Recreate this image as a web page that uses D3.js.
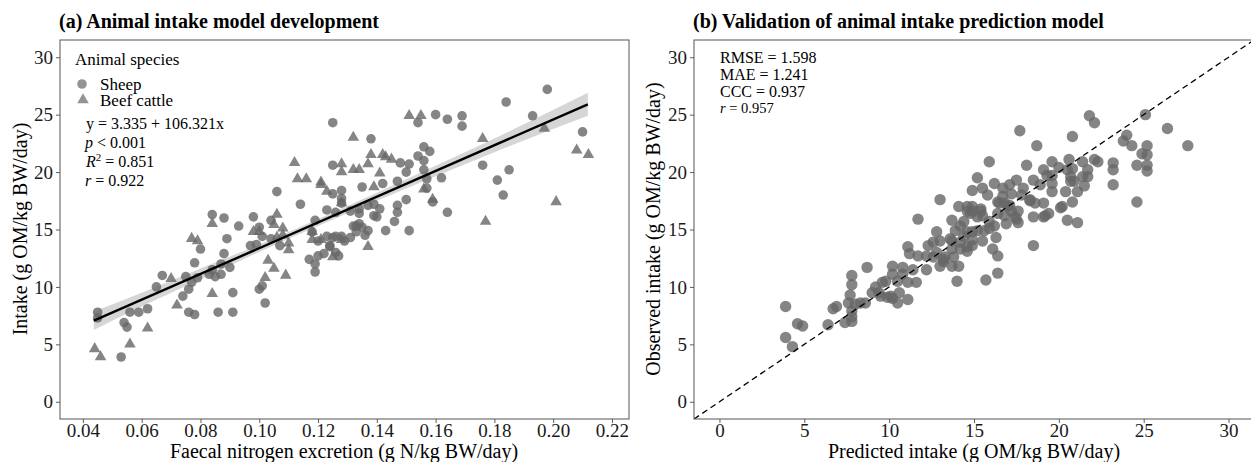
<!DOCTYPE html>
<html>
<head>
<meta charset="utf-8">
<script src="https://cdn.jsdelivr.net/npm/d3@7"></script>
<style>
  body { margin: 0; background: #fff; }
  svg text { font-family: "Liberation Serif", "Times New Roman", serif; }
</style>
</head>
<body>
<div id="chart"></div>
<script>
// panel (a): faecal N excretion vs intake, by species

var sheepX = [0.045,0.045,0.053,0.054,0.055,0.056,0.059,0.062,0.065,0.067,0.074,0.076,0.076,0.078,0.075,0.077,0.079,0.083,0.084,0.085,
  0.087,0.087,0.088,0.078,0.080,0.089,0.084,0.088,0.091,0.086,0.091,0.093,0.090,0.098,0.104,0.100,0.101,0.099,0.097,0.104,
  0.107,0.101,0.100,0.102,0.106,0.114,0.119,0.118,0.120,0.123,0.126,0.128,0.129,0.132,0.133,0.117,0.120,0.122,0.124,0.127,
  0.119,0.119,0.123,0.125,0.128,0.128,0.128,0.198,0.184,0.193,0.210,0.154,0.160,0.164,0.169,0.169,0.125,0.138,0.148,0.151,
  0.154,0.156,0.158,0.156,0.125,0.135,0.142,0.147,0.150,0.156,0.157,0.162,0.157,0.150,0.159,0.164,0.176,0.181,0.185,0.183,
  0.126,0.131,0.134,0.137,0.139,0.141,0.139,0.147,0.147,0.146,0.133,0.134,0.140,0.143,0.151,0.134,0.135,0.137,0.136,0.131,
  0.125,0.124,0.126];
var sheepY = [7.8,7.3,3.9,6.9,6.5,7.8,7.8,8.1,10.0,11.0,9.2,9.8,7.8,7.6,10.9,10.4,10.8,11.1,11.5,10.9,
  11.1,12.0,12.9,12.1,13.3,14.2,16.3,16.0,9.5,7.8,7.8,15.3,11.7,16.1,15.8,15.2,14.4,13.7,13.6,14.2,
  13.6,10.1,9.8,8.6,18.3,17.2,15.8,14.8,14.0,14.4,14.4,14.4,14.0,15.3,14.8,12.4,12.7,12.9,13.6,12.7,
  12.0,11.3,16.7,20.6,18.4,17.7,17.3,27.2,26.1,24.9,23.5,24.3,25.0,24.6,24.9,24.0,24.3,22.9,20.8,20.7,
  21.4,22.2,21.8,21.0,18.1,18.7,19.0,19.2,20.0,20.2,19.4,19.5,18.6,17.6,17.4,16.5,20.6,19.3,20.2,18.0,
  16.5,16.6,16.8,17.1,17.2,16.8,16.2,17.1,16.5,15.7,15.3,16.4,16.1,14.9,14.9,15.5,15.2,14.9,14.5,14.3,
  14.3,13.5,13.0];

var cattleX = [0.044,0.046,0.056,0.062,0.070,0.072,0.084,0.077,0.079,0.084,0.098,0.100,0.105,0.108,0.108,0.106,0.110,0.103,0.105,0.109,
  0.102,0.110,0.118,0.121,0.106,0.112,0.113,0.116,0.121,0.123,0.128,0.132,0.134,0.197,0.208,0.212,0.176,0.151,0.155,0.132,
  0.138,0.142,0.143,0.145,0.128,0.137,0.141,0.121,0.139,0.156,0.159,0.128,0.177,0.201,0.118,0.128,0.125,0.137];
var cattleY = [4.7,4.0,5.1,6.5,10.8,8.5,9.5,14.3,14.1,15.6,14.9,14.9,15.5,15.2,14.6,14.4,13.9,12.4,11.7,11.1,
  10.9,13.3,14.2,14.2,16.4,20.9,19.5,19.5,19.2,18.4,20.8,20.3,20.3,23.9,22.0,21.6,23.0,25.0,25.0,23.1,
  21.6,21.6,21.4,21.2,20.1,20.8,20.0,19.0,18.8,18.6,17.7,17.4,15.8,17.5,14.9,14.2,12.7,13.6];

// fitted line and its confidence band, as drawn
var fitX = [0.0437, 0.2118];
var fitY = [7.06, 25.9];
var ciX  = [0.0437, 0.06, 0.08, 0.10, 0.12, 0.14, 0.16, 0.18, 0.2118];
var ciLo = [6.26, 8.29, 10.66, 13.05, 15.31, 17.5, 19.63, 21.73, 24.9];
var ciHi = [7.86, 9.49, 11.6, 13.69, 15.91, 18.2, 20.55, 22.93, 26.9];

var fitLabels = ["y = 3.335 + 106.321x", "p < 0.001", "R2 = 0.851", "r = 0.922"];

// panel (b): predicted vs observed intake
var predX = [3.9,3.9,4.3,4.6,4.9,6.4,6.7,6.9,7.4,7.8,7.8,7.8,7.6,7.7,7.8,7.8,8.0,8.3,8.6,8.7,
  9.2,9.4,9.6,9.9,10.2,10.5,11.1,10.2,10.2,10.5,10.8,11.1,11.6,12.2,12.6,13.2,14.0,13.7,13.0,11.7,
  14.1,14.6,12.8,12.6,12.3,11.1,11.7,11.2,12.2,12.8,13.2,13.6,13.7,13.9,14.2,14.4,14.2,14.6,9.8,10.8,
  11.4,10.6,10.1,9.5,9.0,21.8,22.1,25.1,26.4,27.6,17.7,18.7,20.8,15.9,18.1,23.8,24.0,24.3,25.2,24.9,
  25.2,24.6,25.2,25.2,23.2,23.2,23.2,24.6,22.1,22.3,21.4,20.6,19.6,19.1,19.3,20.0,20.5,20.8,21.7,21.7,
  21.4,20.7,20.9,20.7,20.4,21.1,21.5,20.8,20.1,20.5,21.1,19.6,19.6,19.6,18.5,18.9,17.9,17.8,18.3,18.6,
  19.1,18.5,19.1,19.4,17.5,17.1,17.2,16.7,16.7,16.4,16.8,17.1,17.6,17.4,16.8,16.2,15.5,15.2,14.9,15.8,
  14.9,14.6,15.4,15.5,15.2,14.8,14.4,13.7,16.2,16.9,17.5,20.2,18.5,19.2,17.6,16.4,15.7,16.4,16.1,16.3,
  15.9,15.5,14.9,14.9,14.6,14.1,13.8,13.3,13.0,13.0,13.7,14.9,15.4,14.6,14.2,14.9,15.2,15.6,15.9,16.4,
  16.5,17.0,17.2,18.3];
var obsY = [8.3,5.6,4.8,6.8,6.6,6.7,8.1,8.3,6.9,7.0,7.4,7.9,8.6,9.3,10.2,11.0,8.5,8.6,8.6,11.7,
  10.0,9.5,10.4,9.1,9.0,8.6,8.9,11.8,11.1,10.5,11.7,10.4,10.4,11.5,12.6,12.2,10.5,11.8,17.6,15.9,
  17.0,16.6,14.8,13.9,13.6,13.5,12.7,12.9,12.7,13.0,12.4,14.2,13.3,14.9,15.3,14.4,13.3,13.5,10.5,11.1,
  11.5,9.5,9.2,9.2,9.5,24.9,24.3,25.0,23.8,22.3,23.6,22.3,23.1,20.9,20.6,22.7,23.2,22.3,22.3,21.6,
  21.5,20.6,20.6,20.1,20.8,20.2,18.9,17.4,21.1,20.9,20.9,21.1,20.9,20.2,19.7,20.4,20.2,20.3,20.2,19.6,
  19.6,19.6,19.2,19.2,18.3,18.3,18.8,17.4,16.9,15.8,15.6,19.7,19.0,18.3,19.3,18.9,18.6,18.0,17.5,17.3,
  17.3,16.1,16.1,16.4,19.3,18.9,18.1,18.6,17.9,17.4,17.3,17.1,16.6,16.1,16.2,19.0,18.6,19.5,18.4,18.0,
  17.0,17.0,16.6,16.2,16.1,16.4,15.7,15.8,15.3,15.5,15.9,17.0,13.6,16.2,15.6,11.2,10.6,12.7,13.3,14.3,
  15.1,14.0,14.8,13.6,13.1,11.8,12.6,12.6,11.8,14.0,14.0,16.6,16.8,14.8,13.9,14.1,14.9,14.9,15.7,16.4,
  17.3,17.0,16.6,17.6];

var statLabels = ["RMSE = 1.598", "MAE = 1.241", "CCC = 0.937", "r = 0.957"];

var xTicksA = [0.04, 0.06, 0.08, 0.10, 0.12, 0.14, 0.16, 0.18, 0.20, 0.22];
var yTicks = [0, 5, 10, 15, 20, 25, 30];
var xTicksB = [0, 5, 10, 15, 20, 25, 30];

var width = 1251, height = 462;
var pointCol = "#666666";
var panelTop = 40, panelBottom = 419;

var svg = d3.select("#chart").append("svg")
    .attr("width", width)
    .attr("height", height);

svg.append("rect").attr("width", width).attr("height", height).attr("fill", "#fff");

var xA = d3.scaleLinear().domain([0.0322, 0.2258]).range([60, 629]);
var yA = d3.scaleLinear().domain([-1.5, 31.5]).range([panelBottom, panelTop]);
var xB = d3.scaleLinear().domain([-1.5, 31.5]).range([694, 1254]);
var yB = d3.scaleLinear().domain([-1.5, 31.5]).range([panelBottom, panelTop]);

function styleAxis(g) {
  g.select(".domain").remove();
  g.selectAll(".tick line").attr("stroke", "#333").attr("stroke-width", 0.8);
  g.selectAll(".tick text")
    .attr("fill", "#1a1a1a")
    .style("font-size", "19px")
    .style("font-family", "'Liberation Serif', serif");
}

// axes
svg.append("g").attr("transform", "translate(0," + panelBottom + ")")
  .call(d3.axisBottom(xA).tickValues(xTicksA).tickFormat(d3.format(".2f")).tickSize(4).tickPadding(1))
  .call(styleAxis);
svg.append("g").attr("transform", "translate(60,0)")
  .call(d3.axisLeft(yA).tickValues(yTicks).tickSize(4).tickPadding(3))
  .call(styleAxis);
svg.append("g").attr("transform", "translate(0," + panelBottom + ")")
  .call(d3.axisBottom(xB).tickValues(xTicksB).tickSize(4).tickPadding(1))
  .call(styleAxis);
svg.append("g").attr("transform", "translate(694,0)")
  .call(d3.axisLeft(yB).tickValues(yTicks).tickSize(4).tickPadding(3))
  .call(styleAxis);

// ----- panel (a)
var ci = ciX.map(function(d, i) { return {x: d, lo: ciLo[i], hi: ciHi[i]}; });

svg.append("path")
  .datum(ci)
  .attr("fill", "#d6d6d6")
  .attr("d", d3.area()
    .curve(d3.curveMonotoneX)
    .x(function(d) { return xA(d.x); })
    .y0(function(d) { return yA(d.lo); })
    .y1(function(d) { return yA(d.hi); }));

var sym = d3.symbol();

svg.append("g").selectAll("circle")
  .data(sheepX.map(function(d, i) { return [d, sheepY[i]]; }))
  .enter().append("circle")
  .attr("cx", function(d) { return xA(d[0]); })
  .attr("cy", function(d) { return yA(d[1]); })
  .attr("r", 4.8)
  .attr("fill", pointCol)
  .attr("fill-opacity", 0.8);

svg.append("g").selectAll("path")
  .data(cattleX.map(function(d, i) { return [d, cattleY[i]]; }))
  .enter().append("path")
  .attr("transform", function(d) { return "translate(" + xA(d[0]) + "," + (yA(d[1]) + 1) + ")"; })
  .attr("d", sym.type(d3.symbolTriangle).size(58)())
  .attr("fill", pointCol)
  .attr("fill-opacity", 0.8);

svg.append("line")
  .attr("x1", xA(fitX[0])).attr("y1", yA(fitY[0]))
  .attr("x2", xA(fitX[1])).attr("y2", yA(fitY[1]))
  .attr("stroke", "#000").attr("stroke-width", 2.4);

svg.append("rect")
  .attr("x", 60).attr("y", panelTop).attr("width", 569).attr("height", panelBottom - panelTop)
  .attr("fill", "none").attr("stroke", "#555").attr("stroke-width", 1);

// legend
svg.append("text").attr("x", 75).attr("y", 65).style("font-size", "17px").text("Animal species");
svg.append("circle").attr("cx", 82).attr("cy", 84).attr("r", 4.8).attr("fill", pointCol).attr("fill-opacity", 0.7);
svg.append("path").attr("transform", "translate(83,100)")
  .attr("d", d3.symbol().type(d3.symbolTriangle).size(58)())
  .attr("fill", pointCol).attr("fill-opacity", 0.7);
svg.append("text").attr("x", 100).attr("y", 90).style("font-size", "17px").text("Sheep");
svg.append("text").attr("x", 100).attr("y", 106).style("font-size", "17px").text("Beef cattle");

// fit statistics
var fs = svg.append("g").style("font-size", "16px");
fs.append("text").attr("x", 86).attr("y", 129).text(fitLabels[0]);
var pT = fs.append("text").attr("x", 85).attr("y", 148);
pT.append("tspan").style("font-style", "italic").text("p");
pT.append("tspan").text(fitLabels[1].slice(1));
var rT = fs.append("text").attr("x", 86).attr("y", 167);
rT.append("tspan").style("font-style", "italic").text("R");
rT.append("tspan").attr("dy", -6).style("font-size", "11px").text("2");
rT.append("tspan").attr("dy", 6).text(fitLabels[2].slice(2));
var r1 = fs.append("text").attr("x", 85).attr("y", 186);
r1.append("tspan").style("font-style", "italic").text("r");
r1.append("tspan").text(fitLabels[3].slice(1));

// ----- panel (b)
svg.append("clipPath").attr("id", "clipB")
  .append("rect").attr("x", 694).attr("y", panelTop).attr("width", 560).attr("height", panelBottom - panelTop);

svg.append("g").selectAll("circle")
  .data(predX.map(function(d, i) { return [d, obsY[i]]; }))
  .enter().append("circle")
  .attr("cx", function(d) { return xB(d[0]); })
  .attr("cy", function(d) { return yB(d[1]); })
  .attr("r", 5.7)
  .attr("fill", pointCol)
  .attr("fill-opacity", 0.8);

svg.append("line")
  .attr("clip-path", "url(#clipB)")
  .attr("x1", xB(-1.5)).attr("y1", yB(-1.5))
  .attr("x2", xB(31.5)).attr("y2", yB(31.5))
  .attr("stroke", "#000").attr("stroke-width", 1.3)
  .attr("stroke-dasharray", "6,4");

svg.append("rect")
  .attr("x", 694).attr("y", panelTop).attr("width", 560).attr("height", panelBottom - panelTop)
  .attr("fill", "none").attr("stroke", "#555").attr("stroke-width", 1);

var st = svg.append("g").style("font-size", "16px");
statLabels.slice(0, 3).forEach(function(s, i) {
  st.append("text").attr("x", 720).attr("y", 63 + i * 17).text(s);
});
var r2 = st.append("text").attr("x", 720).attr("y", 113).style("font-size", "14.5px");
r2.append("tspan").style("font-style", "italic").text("r");
r2.append("tspan").text(statLabels[3].slice(1));

// titles
svg.append("text").attr("x", 59).attr("y", 28)
  .style("font-size", "20px").style("font-weight", "bold")
  .text("(a) Animal intake model development");
svg.append("text").attr("x", 693).attr("y", 28)
  .style("font-size", "20px").style("font-weight", "bold")
  .text("(b) Validation of animal intake prediction model");

// axis titles
svg.append("text").attr("x", 344).attr("y", 458).attr("text-anchor", "middle")
  .style("font-size", "20px").text("Faecal nitrogen excretion (g N/kg BW/day)");
svg.append("text").attr("x", 974).attr("y", 458).attr("text-anchor", "middle")
  .style("font-size", "20px").text("Predicted intake (g OM/kg BW/day)");
svg.append("text").attr("transform", "translate(27,229) rotate(-90)").attr("text-anchor", "middle")
  .style("font-size", "20px").text("Intake (g OM/kg BW/day)");
svg.append("text").attr("transform", "translate(660,229) rotate(-90)").attr("text-anchor", "middle")
  .style("font-size", "20px").text("Observed intake (g OM/kg BW/day)");
</script>
</body>
</html>
